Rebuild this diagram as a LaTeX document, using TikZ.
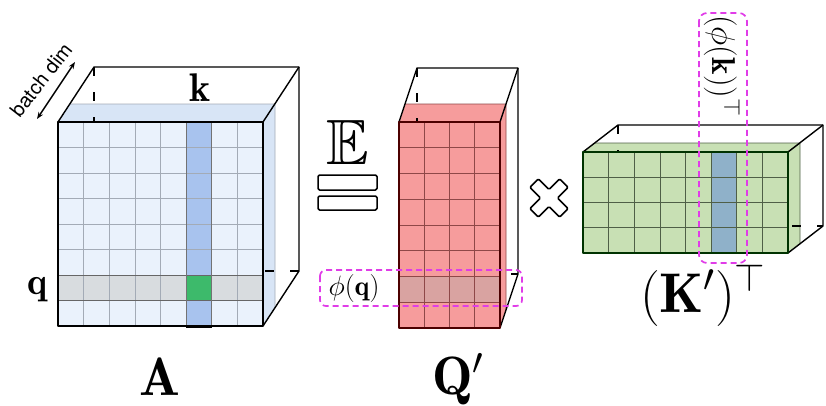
\RequirePackage{fix-cm}
\documentclass[tikz,border=0pt]{standalone}
\usepackage{amsmath,amssymb}
\usepackage{fontspec}
\usetikzlibrary{arrows.meta}
\newfontfamily\helv{TeX Gyre Heros}
\definecolor{mag}{HTML}{E03CE8}
\definecolor{Acell}{HTML}{EAF2FC}
\definecolor{Aslab}{HTML}{D8E5F6}
\definecolor{Acol}{HTML}{A8C3EE}
\definecolor{Arow}{HTML}{D8DCDF}
\definecolor{Agreen}{HTML}{3DBA6B}
\definecolor{Agrid}{HTML}{A3ABB6}
\definecolor{Qcell}{HTML}{F69C9C}
\definecolor{Qrow}{HTML}{D9A3A1}
\definecolor{Qgrid}{HTML}{8E4848}
\definecolor{Kcell}{HTML}{C8E0B4}
\definecolor{Kcol}{HTML}{8FB1C9}
\definecolor{Kgrid}{HTML}{4F5F47}
\begin{document}
\begin{tikzpicture}[x=1pt,y=-1pt,line join=round]
\useasboundingbox (0,0) rectangle (826,405);
\tikzset{
  backedge/.style={line width=1.4pt,draw=black},
  hidden/.style={line width=1.1pt,draw=black,dash pattern=on 9pt off 16pt},
  frontedge/.style={line width=2.3pt,draw=black},
  slabedge/.style={line width=0.8pt},
  magbox/.style={draw=mag,dash pattern=on 6pt off 4pt,line width=1.7pt,rounded corners=7pt},
  biglbl/.style={font=\fontsize{54}{60}\selectfont,inner sep=0pt}
}
% ================= A cube =================
\fill[Aslab] (58,122) -- (70,104) -- (275,104) -- (275,308) -- (263,326) -- cycle;
\draw[slabedge,draw=Agrid] (70,104) -- (275,104) -- (275,308) (275,104) -- (263,122);
\draw[hidden] (94,67) -- (94,271) -- (299,271);
\draw[backedge] (58,122) -- (94,67) -- (299,67) -- (299,271) -- (263,326);
\draw[backedge] (263,122) -- (299,67);
\fill[Acell] (58,122) rectangle (263,326);
\fill[Arow] (58,275) rectangle (263,300.5);
\fill[Acol] (186.125,122) rectangle (211.75,326);
\fill[Agreen] (186.125,275) rectangle (211.75,300.5);
\foreach \i in {1,...,7} {
  \draw[Agrid,line width=0.7pt] ({58+\i*25.625},122) -- ({58+\i*25.625},326);
  \draw[Agrid,line width=0.7pt] (58,{122+\i*25.5}) -- (263,{122+\i*25.5});
}
\draw[line width=0.9pt,draw=black!60] (58,275) rectangle (263,300.5);
\draw[line width=0.9pt,draw=black!55] (186.125,122) rectangle (211.75,326);
\draw[frontedge] (58,122) rectangle (263,326);
\draw[line width=3pt] (186.125,326) -- (211.75,326);
% ================= Q cube =================
\fill[Qcell] (399,122) -- (405,104) -- (506,104) -- (506,310) -- (500,328) -- cycle;
\draw[slabedge,draw=Qgrid] (405,104) -- (506,104) -- (506,310) (506,104) -- (500,122);
\draw[hidden] (417,68) -- (417,274) -- (518,274);
\draw[backedge] (399,122) -- (417,68) -- (518,68) -- (518,274) -- (500,328);
\draw[backedge] (500,122) -- (518,68);
\fill[Qcell] (399,122) rectangle (500,328);
\fill[Qrow] (399,276.5) rectangle (500,302.25);
\foreach \i in {1,...,3} {
  \draw[Qgrid,line width=0.7pt] ({399+\i*25.25},122) -- ({399+\i*25.25},328);
}
\foreach \i in {1,...,7} {
  \draw[Qgrid,line width=0.7pt] (399,{122+\i*25.75}) -- (500,{122+\i*25.75});
}
\draw[line width=2pt,draw=black!70!red] (399,122) rectangle (500,328);
% ================= K cube =================
\fill[Kcell] (583,152) -- (595,143) -- (800,143) -- (800,244) -- (788,253) -- cycle;
\draw[slabedge,draw=Kgrid] (595,143) -- (800,143) -- (800,244) (800,143) -- (788,152);
\draw[hidden] (618,125) -- (618,226) -- (823,226);
\draw[backedge] (583,152) -- (618,125) -- (823,125) -- (823,226) -- (788,253);
\draw[backedge] (788,152) -- (823,125);
\fill[Kcell] (583,152) rectangle (788,253);
\fill[Kcol] (711.125,152) rectangle (736.75,253);
\foreach \i in {1,...,7} {
  \draw[Kgrid,line width=0.7pt] ({583+\i*25.625},152) -- ({583+\i*25.625},253);
}
\foreach \i in {1,...,3} {
  \draw[Kgrid,line width=0.7pt] (583,{152+\i*25.25}) -- (788,{152+\i*25.25});
}
\draw[line width=1pt,draw=Kgrid] (711.125,152) rectangle (736.75,253);
\draw[line width=2.2pt,draw=black!80!green] (583,152) rectangle (788,253);
% ================= symbols =================
\node[inner sep=0pt] (E) at (348,142) {\fontsize{64}{64}\selectfont$\mathbb{E}$};
\draw[line width=1.5pt,rounded corners=1.5pt] (318,175) rectangle (377,190);
\draw[line width=1.5pt,rounded corners=1.5pt] (318,196) rectangle (377,210);
\draw[line width=1.6pt,fill=white,rounded corners=1.2pt,shift={(549,198)},rotate=45]
  (-6,21) -- (6,21) -- (6,6) -- (21,6) -- (21,-6) -- (6,-6) -- (6,-21) -- (-6,-21)
  -- (-6,-6) -- (-21,-6) -- (-21,6) -- (-6,6) -- cycle;
% ================= labels =================
\node[inner sep=0pt] (k) at (200,88) {\fontsize{40}{40}\selectfont$\mathbf{k}$};
\node[inner sep=0pt,anchor=base] (q) at (38,294) {\fontsize{38}{38}\selectfont$\mathbf{q}$};
\node[biglbl,anchor=base] (A) at (160,395) {$\mathbf{A}$};
\node[biglbl,anchor=base] (Q) at (458,394) {$\mathbf{Q}'$};
\node[biglbl,anchor=base,font=\fontsize{56}{60}\selectfont] (K) at (703,312) {$(\mathbf{K}')^{\top}$};
\node[inner sep=0pt] (phq) at (354,288) {\fontsize{28}{28}\selectfont$\phi(\mathbf{q})$};
\node[inner sep=0pt,rotate=-90] (phk) at (722,66) {\fontsize{33}{33}\selectfont$(\phi(\mathbf{k}))^{\top}$};
\node[inner sep=0pt,rotate=52] (bd) at (41,80) {\helv\fontsize{20}{20}\selectfont batch dim};
\coordinate (b1) at (37,119);
\coordinate (b2) at (75,62);
\draw[line width=1.4pt,{Stealth[length=7pt]}-{Stealth[length=7pt]}] (b1) -- (b2);
% ================= magenta dashed boxes =================
\draw[magbox,rounded corners=6pt] (320,270) rectangle (522,306);
\draw[magbox,rounded corners=8pt] (699,13) rectangle (747,263);
\end{tikzpicture}
\end{document}
